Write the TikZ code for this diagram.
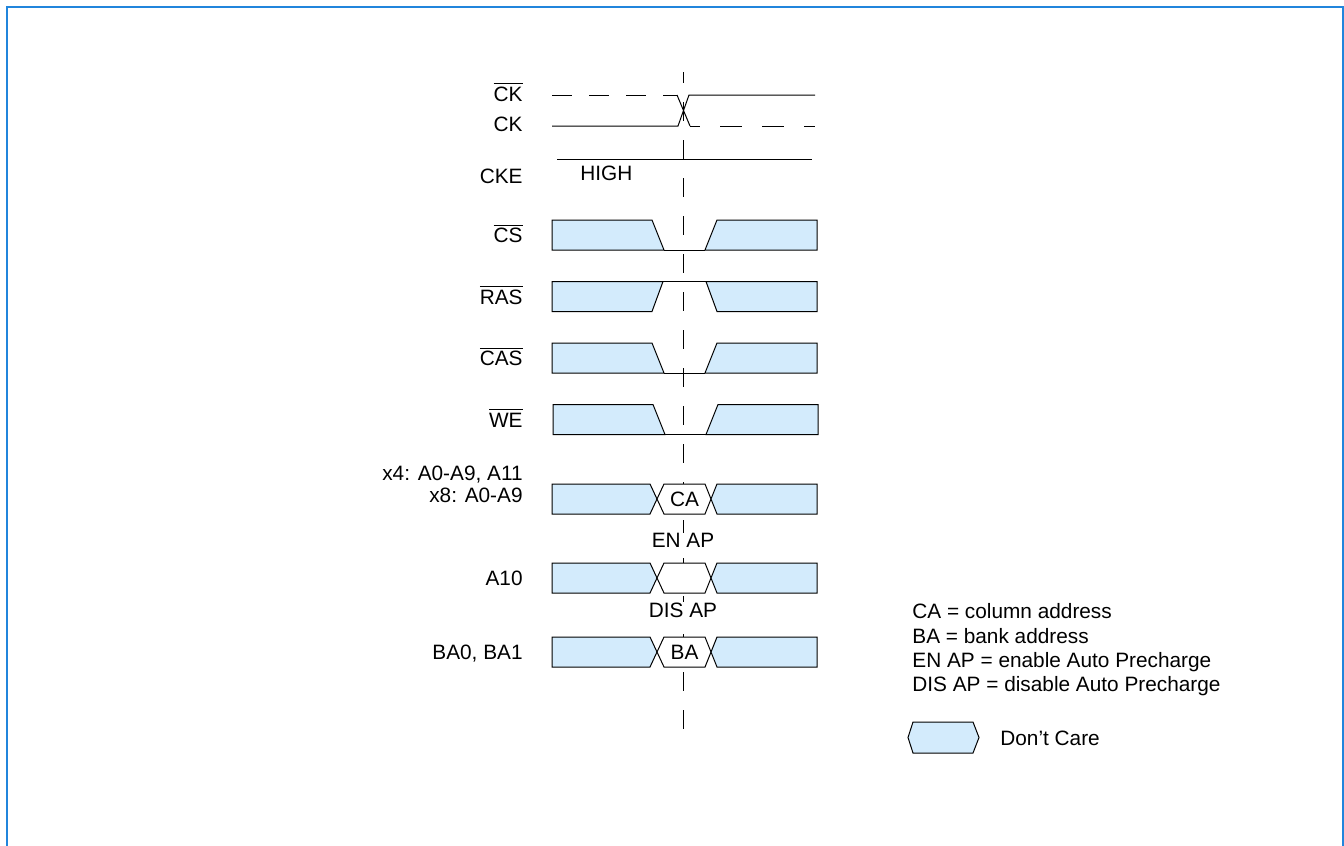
\documentclass[tikz,border=0pt]{standalone}
\usepackage{fontspec}
\setmainfont{Liberation Sans}
\definecolor{dcblue}{RGB}{211,235,252}
\definecolor{frameblue}{RGB}{33,133,220}
\newcommand{\sigfont}{\fontsize{10.4}{12.5}\selectfont}
\newcommand{\inv}[1]{$\overline{\mbox{#1}}$}

\begin{document}
\begin{tikzpicture}[
        x=0.5pt, y=-0.5pt,
        font=\sigfont,
        every node/.style={inner sep=0pt},
        sigline/.style={line width=0.5pt},
        dontcare/.style={draw=black, fill=dcblue, line width=0.5pt},
        valid/.style={draw=black, fill=white, line width=0.5pt},
        siglabel/.style={anchor=base east},
        frame/.style={draw=frameblue, line width=1.1pt}
    ]

        \useasboundingbox (0,0) rectangle (1344,846);

        % --- Rahmen ---
        \draw[frame] (7,846) -- (7,7) -- (1343,7) -- (1343,846);

        % --- Koordinaten-Definition ---
        % X-Positionen
        \def\xLabel{523}
        \def\xStart{552}
        \def\xEnd{817}
        \def\xMid{683}

        % Y-Positionen der Zeilen (Oberkante)
        \def\yCS{220}
        \def\yRAS{281.5}
        \def\yCAS{343}
        \def\yWE{404.5}
        \def\yCA{484}
        \def\yAten{563}
        \def\yBA{637}

        % --- Zeitmarke (gestrichelt) ---
        \draw[sigline, dash pattern=on 9.5pt off 9.5pt, dash phase=4pt]
            (\xMid,72) -- (\xMid,729);

        % --- Takt ---
        \draw[sigline, dash pattern=on 10pt off 8.5pt] (\xStart,95) -- (677,95);
        \draw[sigline] (677,95) -- (690,126);
        \draw[sigline, dash pattern=on 11pt off 10pt, dash phase=6pt] (690,126) -- (815,126);
        \draw[sigline] (\xStart,126) -- (678,126) -- (689,95) -- (815,95);

        \node[siglabel] (ckbar) at (\xLabel,101) {\inv{CK}};
        \node[siglabel] (ck) at (\xLabel,131) {CK};

        % CKE
        \draw[sigline] (557,159) -- (812,159);
        \node[siglabel] (cke) at (\xLabel,183) {CKE};
        \node[anchor=base west] (high) at (580,180) {HIGH};

        % --- Steuersignale ---
        % CS (LOW)
        \draw[dontcare] (\xStart,\yCS) -- (652,\yCS) -- (664,\yCS+30) -- (\xStart,\yCS+30) -- cycle;
        \draw[sigline] (664,\yCS+30) -- (705,\yCS+30);
        \draw[dontcare] (705,\yCS+30) -- (717,\yCS) -- (\xEnd,\yCS) -- (\xEnd,\yCS+30) -- cycle;
        \node[siglabel] (cs) at (\xLabel,\yCS+22.5) {\inv{CS}};

        % RAS (HIGH)
        \draw[dontcare] (\xStart,\yRAS) -- (663,\yRAS) -- (652,\yRAS+30) -- (\xStart,\yRAS+30) -- cycle;
        \draw[sigline] (663,\yRAS) -- (706,\yRAS);
        \draw[dontcare] (706,\yRAS) -- (717,\yRAS+30) -- (\xEnd,\yRAS+30) -- (\xEnd,\yRAS) -- cycle;
        \node[siglabel] (ras) at (\xLabel,\yRAS+22.5) {\inv{RAS}};

        % CAS (LOW)
        \draw[dontcare] (\xStart,\yCAS) -- (652,\yCAS) -- (664,\yCAS+30) -- (\xStart,\yCAS+30) -- cycle;
        \draw[sigline] (664,\yCAS+30) -- (705,\yCAS+30);
        \draw[dontcare] (705,\yCAS+30) -- (717,\yCAS) -- (\xEnd,\yCAS) -- (\xEnd,\yCAS+30) -- cycle;
        \node[siglabel] (cas) at (\xLabel,\yCAS+22.5) {\inv{CAS}};

        % WE (LOW)
        \draw[dontcare] (553,\yWE) -- (653,\yWE) -- (665,\yWE+30) -- (553,\yWE+30) -- cycle;
        \draw[sigline] (665,\yWE+30) -- (706,\yWE+30);
        \draw[dontcare] (706,\yWE+30) -- (718,\yWE) -- (818,\yWE) -- (818,\yWE+30) -- cycle;
        \node[siglabel] (we) at (\xLabel,\yWE+22.5) {\inv{WE}};

        % --- Adressen ---
        % A0-A9 (CA)
        \draw[dontcare] (\xStart,\yCA) -- (650,\yCA) -- (657,\yCA+15) -- (650,\yCA+30) -- (\xStart,\yCA+30) -- cycle;
        \draw[valid] (657,\yCA+15) -- (664,\yCA) -- (705,\yCA) -- (711,\yCA+15) -- (705,\yCA+30) -- (664,\yCA+30) -- cycle;
        \draw[dontcare] (711,\yCA+15) -- (717,\yCA) -- (\xEnd,\yCA) -- (\xEnd,\yCA+30) -- (717,\yCA+30) -- cycle;
        \node[anchor=base] (ca) at (684.5,\yCA+22.5) {CA};
        \node[siglabel] (addrfour) at (\xLabel,480) {x4: A0-A9, A11};
        \node[siglabel] (addreight) at (\xLabel,502) {x8: A0-A9};

        % A10 (EN AP / DIS AP)
        \draw[dontcare] (\xStart,\yAten) -- (650,\yAten) -- (657,\yAten+15) -- (650,\yAten+30) -- (\xStart,\yAten+30) -- cycle;
        \draw[valid] (657,\yAten+15) -- (664,\yAten) -- (705,\yAten) -- (711,\yAten+15) -- (705,\yAten+30) -- (664,\yAten+30) -- cycle;
        \draw[dontcare] (711,\yAten+15) -- (717,\yAten) -- (\xEnd,\yAten) -- (\xEnd,\yAten+30) -- (717,\yAten+30) -- cycle;
        \node[anchor=base, fill=white] (enap) at (\xMid,547) {EN AP};
        \node[anchor=base, fill=white] (disap) at (\xMid,617) {DIS AP};
        \node[siglabel] (aten) at (\xLabel,\yAten+22.5) {A10};

        % BA0, BA1 (BA)
        \draw[dontcare] (\xStart,\yBA) -- (650,\yBA) -- (657,\yBA+15) -- (650,\yBA+30) -- (\xStart,\yBA+30) -- cycle;
        \draw[valid] (657,\yBA+15) -- (664,\yBA) -- (705,\yBA) -- (711,\yBA+15) -- (705,\yBA+30) -- (664,\yBA+30) -- cycle;
        \draw[dontcare] (711,\yBA+15) -- (717,\yBA) -- (\xEnd,\yBA) -- (\xEnd,\yBA+30) -- (717,\yBA+30) -- cycle;
        \node[anchor=base] (ba) at (684.5,\yBA+22.5) {BA};
        \node[siglabel] (bank) at (\xLabel,\yBA+22.5) {BA0, BA1};

        % --- Legende ---
        \node[anchor=base west] (legca) at (912,618.5) {CA = column address};
        \node[anchor=base west] (legba) at (912,643) {BA = bank address};
        \node[anchor=base west] (legen) at (912,667.5) {EN AP = enable Auto Precharge};
        \node[anchor=base west] (legdis) at (912,691.5) {DIS AP = disable Auto Precharge};

        \draw[dontcare] (908,737.5) -- (913,722) -- (973,722) -- (979,737.5) -- (973,753) -- (913,753) -- cycle;
        \node[anchor=base west] (legdc) at (1000,745) {Don’t Care};

    \end{tikzpicture}
\end{document}
